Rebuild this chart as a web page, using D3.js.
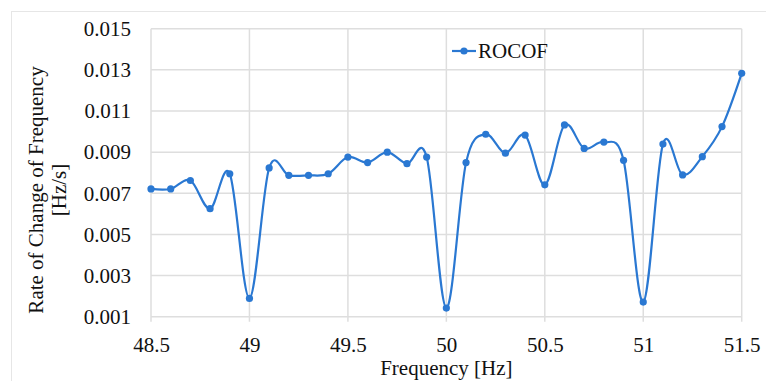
<!DOCTYPE html>
<html>
<head>
<meta charset="utf-8">
<script src="https://cdn.jsdelivr.net/npm/d3@7"></script>
<style>
  body { margin: 0; background: #fff; }
  text { font-family: "Liberation Serif", "Times New Roman", serif; fill: #111; }
</style>
</head>
<body>
<div id="chart"></div>
<script>
// values
const freq = [48.5, 48.6, 48.7, 48.8, 48.9, 49.0, 49.1, 49.2, 49.3, 49.4, 49.5,
              49.6, 49.7, 49.8, 49.9, 50.0, 50.1, 50.2, 50.3, 50.4, 50.5,
              50.6, 50.7, 50.8, 50.9, 51.0, 51.1, 51.2, 51.3, 51.4, 51.5];
const rocof = [0.00721, 0.00721, 0.00762, 0.00625, 0.00795, 0.00189, 0.00823, 0.00787, 0.00787, 0.00795, 0.00876,
               0.00849, 0.00900, 0.00844, 0.00876, 0.00142, 0.00849, 0.00987, 0.00895, 0.00983, 0.00741,
               0.01032, 0.00918, 0.00949, 0.00860, 0.00171, 0.00939, 0.00789, 0.00878, 0.01024, 0.01283];
const xTicks = [48.5, 49, 49.5, 50, 50.5, 51, 51.5];
const yTicks = [0.001, 0.003, 0.005, 0.007, 0.009, 0.011, 0.013, 0.015];
const seriesName = "ROCOF";

const width = 766, height = 381;
const margin = {top: 28.7, right: 24.3, bottom: 64.3, left: 151};
const blue = "#2a78d2";
const grid = "#dedede";

const svg = d3.select("#chart").append("svg")
  .attr("width", width)
  .attr("height", height);

// outer chart frame (right and bottom edges fall outside the picture)
svg.append("rect")
  .attr("x", 11.5).attr("y", 11.5)
  .attr("width", 770).attr("height", 380)
  .attr("fill", "none")
  .attr("stroke", "#e6e6e6");

const x = d3.scaleLinear()
  .domain([48.5, 51.5])
  .range([margin.left, width - margin.right]);

const y = d3.scaleLinear()
  .domain([0.001, 0.015])
  .range([height - margin.bottom, margin.top]);

// gridlines
svg.append("g")
  .selectAll("line.h")
  .data(yTicks)
  .join("line")
  .attr("x1", x(48.5)).attr("x2", x(51.5))
  .attr("y1", d => y(d)).attr("y2", d => y(d))
  .attr("stroke", grid).attr("stroke-width", 1.5);

svg.append("g")
  .selectAll("line.v")
  .data(xTicks)
  .join("line")
  .attr("x1", d => x(d)).attr("x2", d => x(d))
  .attr("y1", y(0.015)).attr("y2", y(0.001) + 5)
  .attr("stroke", grid).attr("stroke-width", 1.5);

// x axis labels
const xAxis = svg.append("g")
  .attr("transform", `translate(0,${y(0.001)})`)
  .call(d3.axisBottom(x).tickValues(xTicks).tickFormat(d => String(d)).tickSize(0).tickPadding(20));
xAxis.select(".domain").remove();
xAxis.selectAll("text")
  .attr("font-size", 21)
  .attr("font-family", "Liberation Serif, serif")
  .attr("fill", "#111");

// y axis labels
const yAxis = svg.append("g")
  .attr("transform", `translate(${x(48.5)},0)`)
  .call(d3.axisLeft(y).tickValues(yTicks).tickFormat(d3.format(".3f")).tickSize(0).tickPadding(20));
yAxis.select(".domain").remove();
yAxis.selectAll("text")
  .attr("font-size", 21)
  .attr("font-family", "Liberation Serif, serif")
  .attr("fill", "#111");

// series line (smoothed like the spreadsheet chart)
const line = d3.line()
  .x((d, i) => x(freq[i]))
  .y(d => y(d))
  .curve(d3.curveCardinal.tension(0));

svg.append("path")
  .datum(rocof)
  .attr("d", line)
  .attr("fill", "none")
  .attr("stroke", blue)
  .attr("stroke-width", 2.2);

svg.append("g")
  .selectAll("circle")
  .data(rocof)
  .join("circle")
  .attr("cx", (d, i) => x(freq[i]))
  .attr("cy", d => y(d))
  .attr("r", 3.6)
  .attr("fill", blue);

// legend
const lg = svg.append("g").attr("transform", "translate(452,51)");
lg.append("line")
  .attr("x1", 0).attr("x2", 24)
  .attr("stroke", blue).attr("stroke-width", 2.2);
lg.append("circle").attr("cx", 12).attr("r", 3.6).attr("fill", blue);
lg.append("text")
  .attr("x", 26).attr("y", 6.5)
  .attr("font-size", 21)
  .text(seriesName);

// axis titles
svg.append("text")
  .attr("x", (x(48.5) + x(51.5)) / 2)
  .attr("y", 375)
  .attr("text-anchor", "middle")
  .attr("font-size", 21)
  .text("Frequency [Hz]");

const yt = svg.append("text")
  .attr("transform", "translate(43,190) rotate(-90)")
  .attr("text-anchor", "middle")
  .attr("font-size", 21);
yt.append("tspan").attr("x", 0).attr("y", 0).text("Rate of Change of Frequency");
yt.append("tspan").attr("x", 0).attr("y", 23).text("[Hz/s]");
</script>
</body>
</html>
